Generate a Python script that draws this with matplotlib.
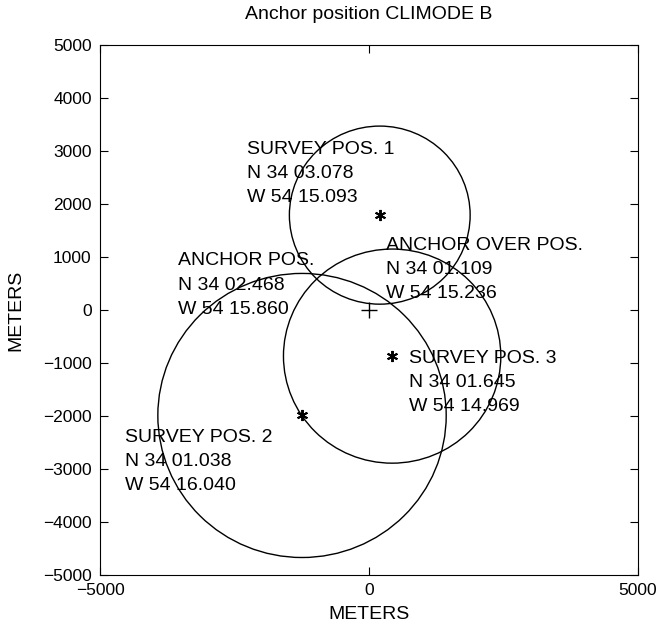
import matplotlib
matplotlib.use('Agg')
import matplotlib.pyplot as plt
from matplotlib.patches import Circle

plt.rcParams['font.family'] = ['Liberation Sans', 'DejaVu Sans']

# survey points (meters relative to anchor-over position)
survey_x = [200, -1245, 430]
survey_y = [1790, -1990, -870]
survey_r = [1680, 2680, 2020]

over_x = [0]
over_y = [0]

label_texts = [
    'SURVEY POS. 1\nN 34 03.078\nW 54 15.093',
    'ANCHOR POS.\nN 34 02.468\nW 54 15.860',
    'ANCHOR OVER POS.\nN 34 01.109\nW 54 15.236',
    'SURVEY POS. 3\nN 34 01.645\nW 54 14.969',
    'SURVEY POS. 2\nN 34 01.038\nW 54 16.040',
]
label_x = [-2270, -3550, 320, 750, -4535]
label_y = [2580, 470, 760, -1365, -2860]

fig = plt.figure(figsize=(6.61, 6.32), dpi=100)
ax = fig.add_axes([0.1513, 0.0902, 0.8139, 0.8386])

for cx, cy, r in zip(survey_x, survey_y, survey_r):
    ax.add_patch(Circle((cx, cy), r, fill=False, edgecolor='black', linewidth=1.0))

ax.plot(survey_x, survey_y, linestyle='none', marker=(6, 2, 0), markersize=8,
        color='black', markeredgewidth=1.4)
ax.plot(over_x, over_y, linestyle='none', marker='+', markersize=11,
        color='black', markeredgewidth=1.0)

for t, x, y in zip(label_texts, label_x, label_y):
    ax.text(x, y, t, fontsize=14, ha='left', va='center', linespacing=1.55)

ax.set_xlim(-5000, 5000)
ax.set_ylim(-5000, 5000)
ax.set_xticks([-5000, 0, 5000])
ax.set_yticks(range(-5000, 5001, 1000))
ax.tick_params(direction='in', length=6, labelsize=12.5, top=True, right=True, pad=6)
ax.set_xlabel('METERS', fontsize=14)
ax.set_ylabel('METERS', fontsize=14)
ax.xaxis.set_label_coords(0.5, -0.058)
ax.yaxis.set_label_coords(-0.14, 0.5)
ax.text(0.5, 1.057, 'Anchor position CLIMODE B', fontsize=14,
        ha='center', va='center', transform=ax.transAxes)

fig.savefig('out.png', dpi=100)
